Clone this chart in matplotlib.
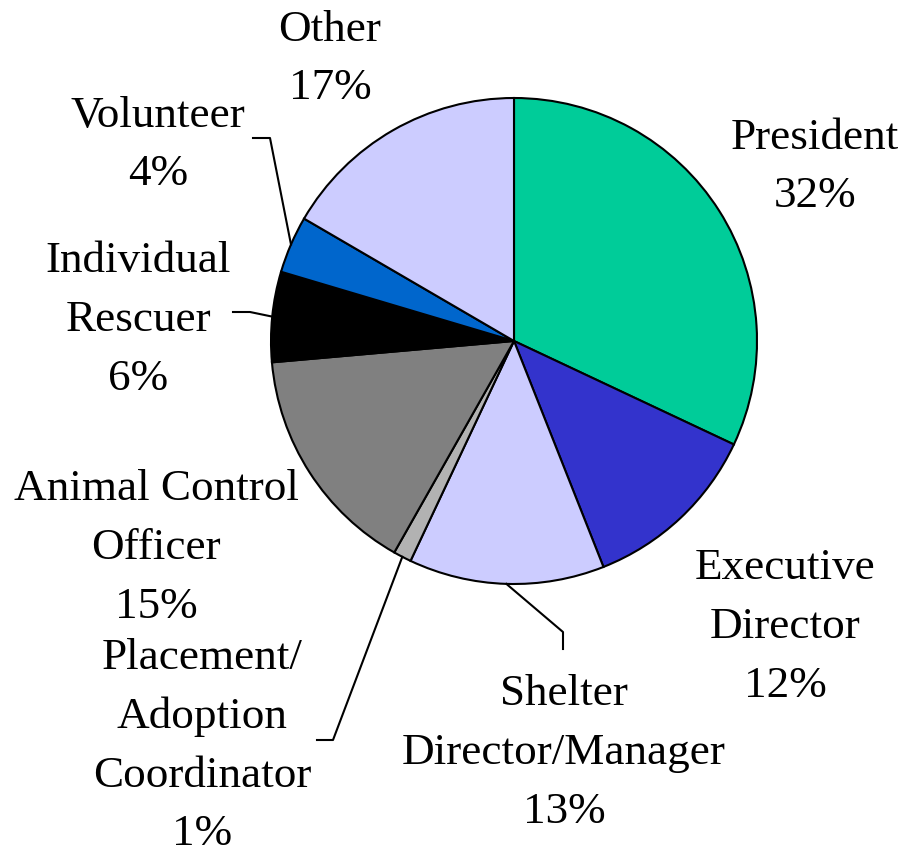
import numpy as np
import matplotlib.pyplot as plt

roles = ["President", "Executive\nDirector", "Shelter\nDirector/Manager",
         "Placement/\nAdoption\nCoordinator", "Animal Control\nOfficer",
         "Individual\nRescuer", "Volunteer", "Other"]
shares = [32.0, 12.0, 13.0, 1.2, 15.4, 6.0, 3.8, 16.6]
colors = ["#00CC99", "#3333CC", "#CCCCFF", "#B2B2B2", "#808080",
          "#000000", "#0066CC", "#CCCCFF"]

W, H = 905, 853
CX, CY, R = 514, 342, 243

# label block centres (pixels, y from top)
label_pos = [(815, 167), (785, 627), (564, 753), (202, 746),
             (156, 548), (138, 320), (158, 145), (330, 59)]
# leader lines: elbow then end point, None = no leader
leaders = [None, None,
           [(563, 633), (563, 650)],
           [(333, 741), (317, 741)],
           None,
           [(250, 313), (233, 313)],
           [(270, 139), (253, 139)],
           None]

plt.rcParams["font.family"] = ["Liberation Serif", "DejaVu Serif"]

fig = plt.figure(figsize=(W / 100, H / 100), dpi=100)
ax = fig.add_axes([0, 0, 1, 1])
ax.set_xlim(0, W)
ax.set_ylim(0, H)
ax.set_aspect("equal")
ax.axis("off")

wedges, _ = ax.pie(shares, colors=colors, startangle=90, counterclock=False,
                   center=(CX, H - CY), radius=R,
                   wedgeprops=dict(edgecolor="black", linewidth=1.5))
ax.set_xlim(0, W)
ax.set_ylim(0, H)

for i, w in enumerate(wedges):
    pct = f"{shares[i]:.0f}%"
    x, y = label_pos[i]
    ax.text(x, H - y, roles[i] + "\n" + pct, ha="center", va="center",
            multialignment="center", fontsize=32.5, linespacing=1.6)
    if leaders[i] is not None:
        mid = np.deg2rad((w.theta1 + w.theta2) / 2)
        pts = [(CX + R * np.cos(mid), H - CY + R * np.sin(mid))]
        pts += [(px, H - py) for px, py in leaders[i]]
        xs, ys = zip(*pts)
        ax.plot(xs, ys, color="black", linewidth=1.5)

fig.savefig("out.png", dpi=100)
